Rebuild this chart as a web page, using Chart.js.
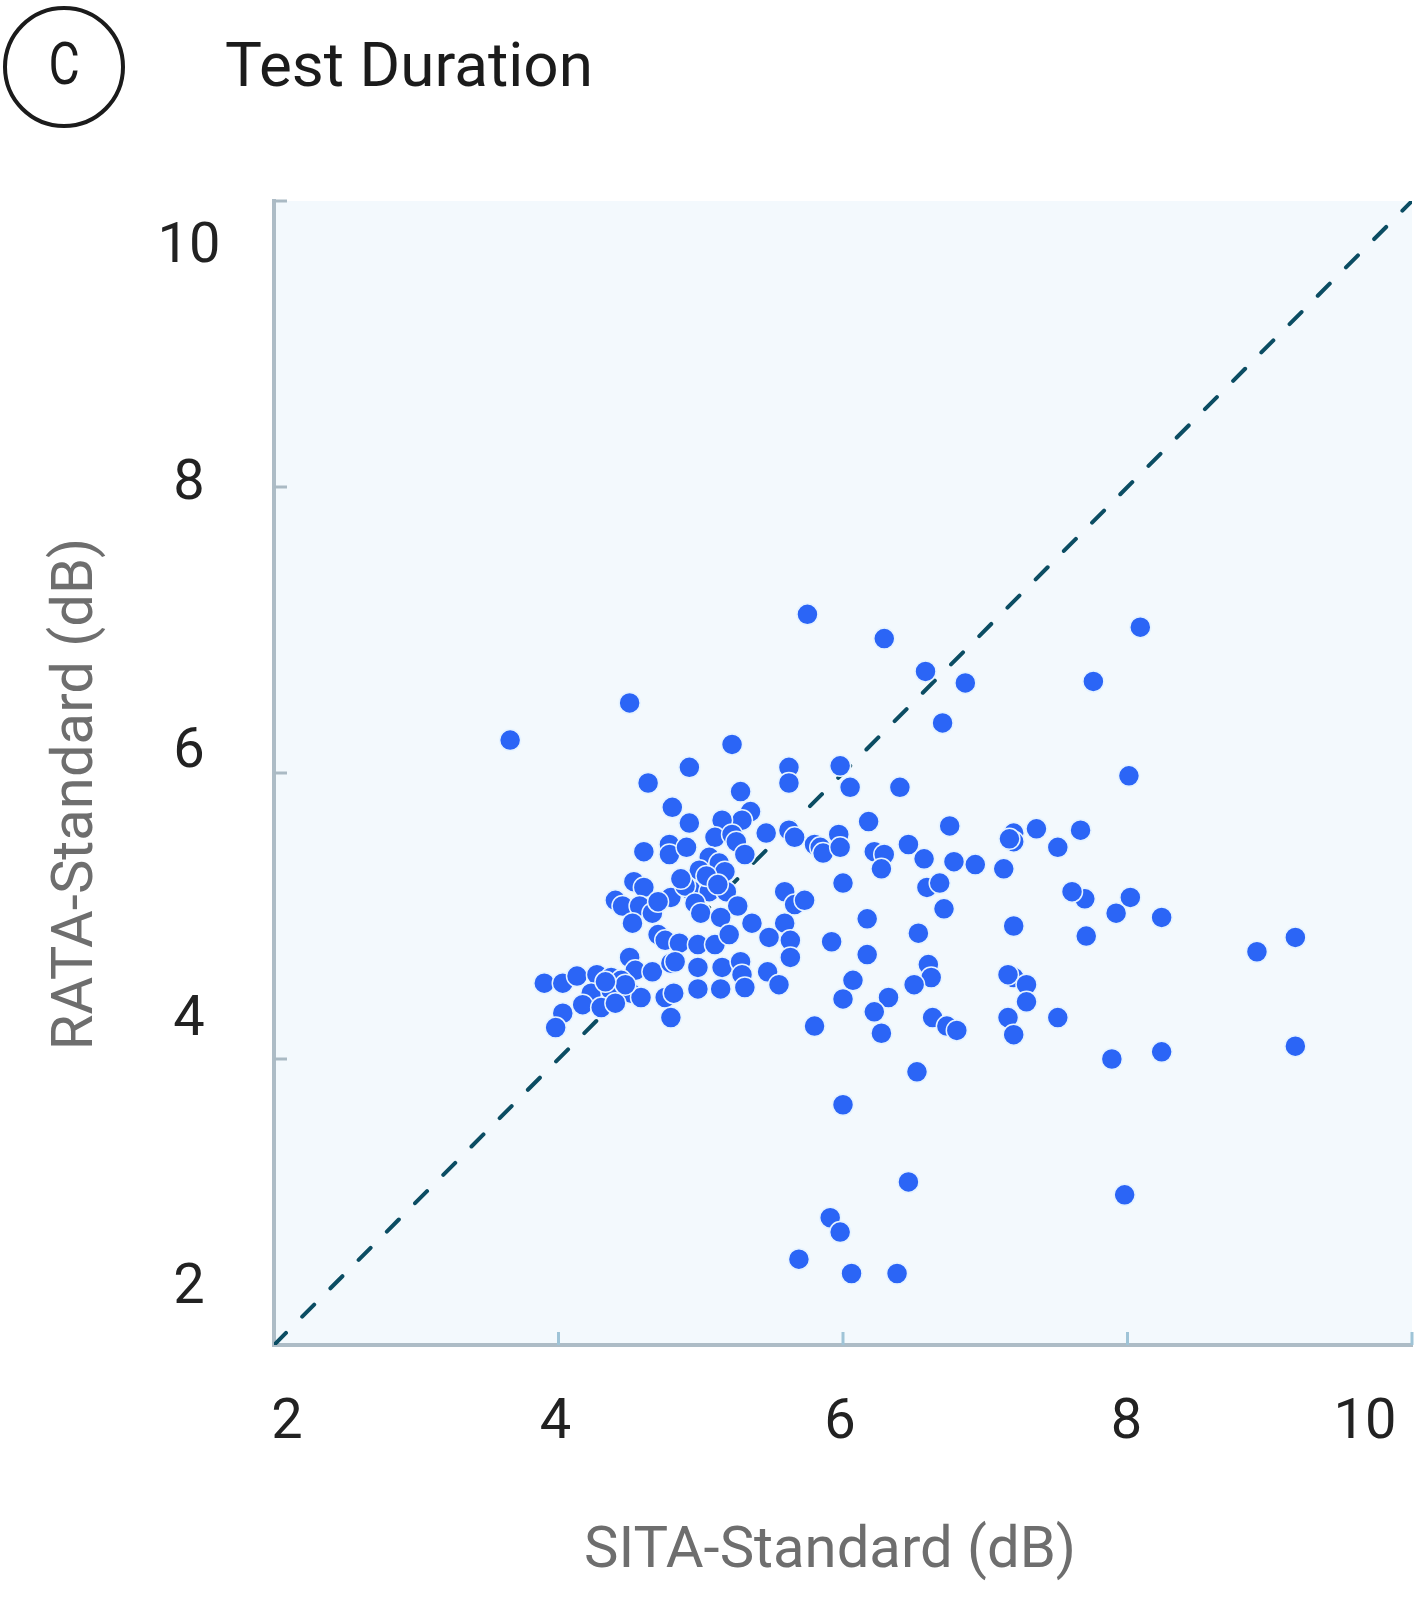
<!DOCTYPE html>
<html lang="en">
<head>
<meta charset="UTF-8">
<title>Test Duration</title>
<script src="https://cdn.jsdelivr.net/npm/chart.js"></script>
<style>
  html, body { margin: 0; padding: 0; background: #fff; }
  .chart-wrap { width: 1424px; height: 1617px; }
</style>
</head>
<body>
<div class="chart-wrap">
  <canvas id="durationChart" width="1424" height="1617"></canvas>
</div>
<script>
// SITA-Standard duration (x) vs RATA-Standard duration (y), in dB as labelled
const sitaStandard = [
  4.60, 4.78, 4.78, 4.53, 4.60, 4.40, 4.45, 4.57, 4.66, 4.79, 4.52, 4.70, 4.75, 4.50, 4.54, 4.66, 4.79,
  3.90, 4.03, 4.13, 4.27, 4.37, 4.44, 4.23, 4.37, 4.51, 4.58, 4.17, 4.30, 4.40, 4.03, 4.75, 4.79, 3.98,
  4.92, 4.63, 5.62, 5.62, 5.28, 4.80, 4.92, 5.35, 5.29, 5.15, 5.10, 5.22, 5.25, 5.46, 5.62, 5.31, 4.90,
  5.06, 5.13, 4.99, 5.17, 4.93, 4.89, 5.06, 5.18, 4.96, 5.00, 5.26, 5.14, 5.36, 5.59, 5.66, 5.59, 4.85,
  4.98, 5.10, 5.20, 5.48, 5.63, 4.82, 4.98, 5.15, 5.28, 5.47, 5.63,
  5.29, 5.55, 4.81, 4.98, 5.14, 5.31,
  6.70, 5.98, 6.05, 6.40, 5.66, 5.80, 5.84, 5.86, 5.97, 5.98, 6.18, 6.22, 6.29, 6.27, 6.46, 6.57, 6.75,
  6.78, 6.93, 7.13, 7.20, 7.20, 7.17, 6.00, 6.59, 6.68, 6.71, 5.73, 5.92, 6.17, 6.17, 6.53, 6.60, 6.62,
  6.50, 6.07, 6.00, 6.32, 6.22, 5.80, 6.27, 6.63, 6.73, 6.80, 7.20, 7.20, 7.16, 7.16, 7.20,
  3.66, 4.50, 5.75, 6.29, 6.58, 6.86, 8.09, 7.76, 8.01, 8.91, 9.18, 9.18, 8.24, 8.24, 7.89, 7.92, 8.02,
  7.98, 7.71, 7.70, 7.61, 7.67, 7.51, 7.36, 7.29, 7.29, 7.51, 6.52, 6.46, 6.38, 6.06, 5.69, 5.91, 5.98,
  6.00, 5.22,
  4.86, 5.04, 5.12, 4.70, 4.47, 4.33
];
const rataStandard = [
  5.45, 5.50, 5.43, 5.24, 5.20, 5.11, 5.07, 5.07, 5.02, 5.13, 4.95, 4.87, 4.83, 4.71, 4.62, 4.61, 4.67,
  4.53, 4.53, 4.58, 4.59, 4.57, 4.55, 4.46, 4.48, 4.46, 4.43, 4.38, 4.36, 4.39, 4.32, 4.43, 4.29, 4.22,
  6.04, 5.93, 6.04, 5.93, 5.87, 5.76, 5.65, 5.73, 5.67, 5.67, 5.55, 5.57, 5.52, 5.58, 5.60, 5.43, 5.48,
  5.41, 5.37, 5.32, 5.31, 5.18, 5.21, 5.17, 5.17, 5.09, 5.02, 5.07, 4.99, 4.95, 5.17, 5.08, 4.95, 4.81,
  4.80, 4.80, 4.87, 4.85, 4.83, 4.68, 4.64, 4.64, 4.68, 4.61, 4.71,
  4.59, 4.52, 4.46, 4.49, 4.49, 4.50,
  6.35, 6.05, 5.90, 5.90, 5.55, 5.50, 5.48, 5.44, 5.57, 5.48, 5.66, 5.45, 5.43, 5.33, 5.50, 5.40, 5.63,
  5.38, 5.36, 5.33, 5.58, 5.52, 5.54, 5.23, 5.20, 5.23, 5.05, 5.11, 4.82, 4.98, 4.73, 4.88, 4.66, 4.57,
  4.52, 4.55, 4.42, 4.43, 4.33, 4.23, 4.18, 4.29, 4.23, 4.20, 4.93, 4.57, 4.59, 4.29, 4.17,
  6.23, 6.49, 7.11, 6.94, 6.71, 6.63, 7.02, 6.64, 5.98, 4.75, 4.85, 4.09, 4.99, 4.05, 4.00, 5.02, 5.13,
  3.05, 4.86, 5.12, 5.17, 5.60, 5.48, 5.61, 4.52, 4.40, 4.29, 3.91, 3.14, 2.50, 2.50, 2.60, 2.89, 2.79,
  3.68, 6.20,
  5.26, 5.28, 5.22, 5.10, 4.52, 4.54
];
const xTicks = [2, 4, 6, 8, 10];
const yTicks = [2, 4, 6, 8, 10];
const identityLine = [2, 10];

const points = sitaStandard.map((x, i) => ({ x: x, y: rataStandard[i] }));

const FONT = 'Roboto, "Open Sans", sans-serif';

// label nudges so the tick text sits where the original figure puts it
const xLabelNudge = { 2: 13, 4: -3, 6: -3, 8: -1, 10: -47 };
const yLabelNudge = { 2: -56, 4: -38, 6: -20, 8: -2, 10: 47 };

const decorPlugin = {
  id: 'decor',
  beforeDraw(chart) {
    const { ctx, chartArea: a } = chart;
    ctx.save();
    ctx.fillStyle = '#f3f9fd';
    ctx.fillRect(a.left, a.top, a.right - a.left, a.bottom - a.top);
    ctx.restore();
  },
  afterDraw(chart) {
    const { ctx, chartArea: a, scales } = chart;
    const xs = scales.x, ys = scales.y;
    ctx.save();

    // inward tick marks
    ctx.lineWidth = 3;
    ctx.strokeStyle = '#9fc4d7';
    xTicks.slice(1).forEach(v => {
      const px = xs.getPixelForValue(v);
      ctx.beginPath();
      ctx.moveTo(px, a.bottom);
      ctx.lineTo(px, a.bottom - 13);
      ctx.stroke();
    });
    ctx.strokeStyle = '#aabac4';
    yTicks.slice(1).forEach(v => {
      const py = ys.getPixelForValue(v);
      ctx.beginPath();
      ctx.moveTo(a.left, py);
      ctx.lineTo(a.left + 13, py);
      ctx.stroke();
    });

    // tick labels
    ctx.fillStyle = '#222';
    ctx.font = '400 56px ' + FONT;
    ctx.textAlign = 'center';
    ctx.textBaseline = 'middle';
    xTicks.forEach(v => {
      ctx.fillText(String(v), xs.getPixelForValue(v) + xLabelNudge[v], 1424);
    });
    yTicks.forEach(v => {
      ctx.fillText(String(v), 189, ys.getPixelForValue(v) + yLabelNudge[v]);
    });

    // axis titles
    ctx.fillStyle = '#6e6e6e';
    ctx.font = '400 58px ' + FONT;
    ctx.fillText('SITA-Standard (dB)', 830, 1552);
    ctx.save();
    ctx.translate(77, 794);
    ctx.rotate(-Math.PI / 2);
    ctx.fillText('RATA-Standard (dB)', 0, 0);
    ctx.restore();

    // panel badge + heading
    ctx.strokeStyle = '#1b1b1b';
    ctx.lineWidth = 4;
    ctx.beginPath();
    ctx.arc(64, 67, 59, 0, Math.PI * 2);
    ctx.stroke();
    ctx.fillStyle = '#1b1b1b';
    ctx.save();
    ctx.translate(64, 69);
    ctx.scale(0.8, 1);
    ctx.font = '400 60px ' + FONT;
    ctx.fillText('C', 0, 0);
    ctx.restore();

    ctx.textAlign = 'left';
    ctx.textBaseline = 'alphabetic';
    ctx.font = '400 62px ' + FONT;
    ctx.fillText('Test Duration', 225, 86);
    ctx.restore();
  }
};

const ctx = document.getElementById('durationChart').getContext('2d');
new Chart(ctx, {
  type: 'scatter',
  data: {
    datasets: [
      {
        type: 'line',
        label: 'Identity',
        data: identityLine.map(v => ({ x: v, y: v })),
        borderColor: '#0b4d63',
        borderWidth: 4,
        borderDash: [17, 23],
        borderCapStyle: 'round',
        pointRadius: 0,
        fill: false,
        order: 2
      },
      {
        label: 'Test duration',
        data: points,
        backgroundColor: '#2b65f6',
        borderColor: '#e6f3ff',
        borderWidth: 1.5,
        pointRadius: 10.5,
        order: 1
      }
    ]
  },
  options: {
    responsive: false,
    animation: false,
    layout: { padding: { top: 201, right: 6, left: 0, bottom: 0 } },
    plugins: {
      legend: { display: false },
      tooltip: { enabled: false }
    },
    scales: {
      x: {
        type: 'linear',
        min: 2,
        max: 10,
        ticks: { display: false, stepSize: 2 },
        grid: { display: false },
        border: { display: true, color: '#adbcc6', width: 4 },
        afterFit(scale) { scale.height = 272; }
      },
      y: {
        type: 'linear',
        min: 2,
        max: 10,
        ticks: { display: false, stepSize: 2 },
        grid: { display: false },
        border: { display: true, color: '#adbcc6', width: 4 },
        afterFit(scale) { scale.width = 274; }
      }
    }
  },
  plugins: [decorPlugin]
});
</script>
</body>
</html>
